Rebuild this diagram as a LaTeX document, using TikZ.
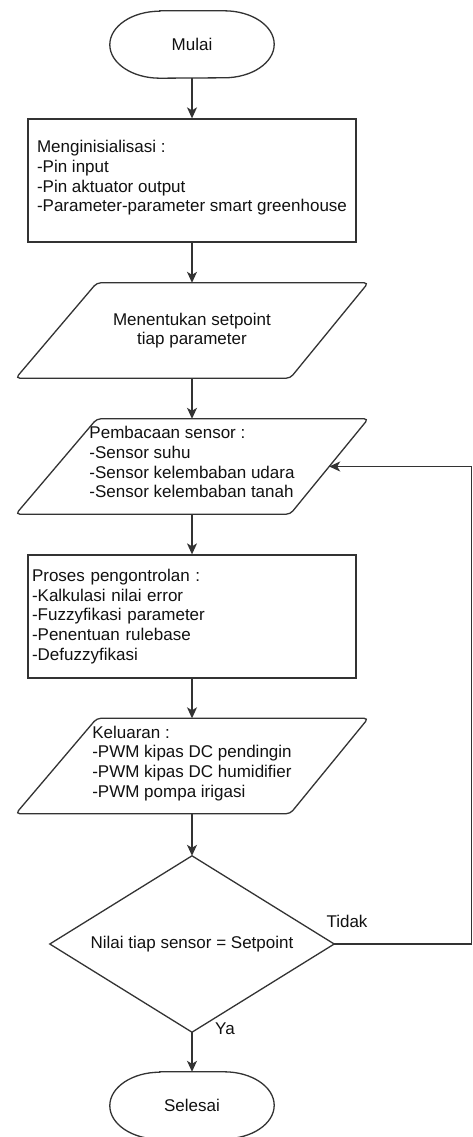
\documentclass[tikz,border=0pt]{standalone}
\usepackage{fontspec}
\setmainfont{Liberation Sans}
\usetikzlibrary{arrows.meta,calc}
\definecolor{ln}{HTML}{333333}
\definecolor{txt}{HTML}{111111}
\begin{document}
\begin{tikzpicture}[x=1pt,y=-1pt,
  every node/.style={font=\fontsize{17}{19.7}\selectfont, text=txt},
  line/.style={draw=ln, line width=1.3pt},
  arrow/.style={line, -{Stealth[length=11pt,width=10pt,inset=3pt]}},
  boxnode/.style={draw=ln, line width=1.3pt, minimum width=328pt, minimum height=123pt, inner sep=0pt, align=left},
  paranode/.style={minimum width=352pt, minimum height=95pt, inner sep=0pt},
  termnode/.style={minimum width=164pt, minimum height=67pt, inner sep=0pt},
  decnode/.style={minimum width=284pt, minimum height=176pt, inner sep=0pt},
  lbl/.style={inner sep=0pt}
]
\useasboundingbox (0,0) rectangle (473,1137);
\fill[white] (0,0) rectangle (473,1137);

% Start
\node[termnode] (start) at (192,44.5) {Mulai};
\draw[line] ([xshift=50pt]start.north west) -- ([xshift=-50pt]start.north east)
  arc[start angle=90,end angle=-90,x radius=50pt,y radius=33.5pt]
  -- ([xshift=50pt]start.south west)
  arc[start angle=270,end angle=90,x radius=50pt,y radius=33.5pt] -- cycle;

% Init
\node[boxnode, text depth=9pt] (init) at (192,180.5) {Menginisialisasi :\\-Pin input\\-Pin aktuator output\\-Parameter-parameter smart greenhouse};

% Setpoint
\node[paranode, align=center] (p1) at (192,330.5) {Menentukan setpoint\\tiap parameter};
\draw[line, rounded corners=4pt] (p1.south west) -- ([xshift=-78pt]p1.south east) -- (p1.north east) -- ([xshift=81pt]p1.north west) -- cycle;

% Sensor reading
\node[paranode, align=left, text depth=9pt] (p2) at (192,466.5) {Pembacaan sensor :\\-Sensor suhu\\-Sensor kelembaban udara\\-Sensor kelembaban tanah};
\draw[line, rounded corners=4pt] (p2.south west) -- ([xshift=-78pt]p2.south east) -- (p2.north east) -- ([xshift=81pt]p2.north west) -- cycle;

% Control process
\node[boxnode, text width=320pt, inner xsep=4pt] (proc) at (192,616.5) {Proses pengontrolan :\\-Kalkulasi nilai error\\-Fuzzyfikasi parameter\\-Penentuan rulebase\\-Defuzzyfikasi};

% Output
\node[paranode, align=left, text depth=9pt] (p3) at (192,766) {Keluaran :\\-PWM kipas DC pendingin\\-PWM kipas DC humidifier\\-PWM pompa irigasi};
\draw[line, rounded corners=4pt] (p3.south west) -- ([xshift=-78pt]p3.south east) -- (p3.north east) -- ([xshift=81pt]p3.north west) -- cycle;

% Decision
\node[decnode] (d) at (192,944) {Nilai tiap sensor = Setpoint};
\draw[line] (d.north) -- (d.east) -- (d.south) -- (d.west) -- cycle;

% End
\node[termnode] (end) at (192,1105.5) {Selesai};
\draw[line] ([xshift=50pt]end.north west) -- ([xshift=-50pt]end.north east)
  arc[start angle=90,end angle=-90,x radius=50pt,y radius=33.5pt]
  -- ([xshift=50pt]end.south west)
  arc[start angle=270,end angle=90,x radius=50pt,y radius=33.5pt] -- cycle;

% Labels
\node[lbl] (tidak) at (347,921) {Tidak};
\node[lbl] (ya) at (225,1029) {Ya};

% Connectors
\draw[arrow] (start.south) -- (init.north);
\draw[arrow] (init.south) -- (p1.north);
\draw[arrow] (p1.south) -- (p2.north);
\draw[arrow] (p2.south) -- (proc.north);
\draw[arrow] (proc.south) -- (p3.north);
\draw[arrow] (p3.south) -- (d.north);
\draw[arrow] (d.south) -- (end.north);

\coordinate (c1) at (471.5,944);
\coordinate (c2) at (471.5,466.5);
\coordinate (p2in) at ($(p2.east)+(-39pt,0pt)$);
\draw[arrow] (d.east) -- (c1) -- (c2) -- (p2in);
\end{tikzpicture}
\end{document}
